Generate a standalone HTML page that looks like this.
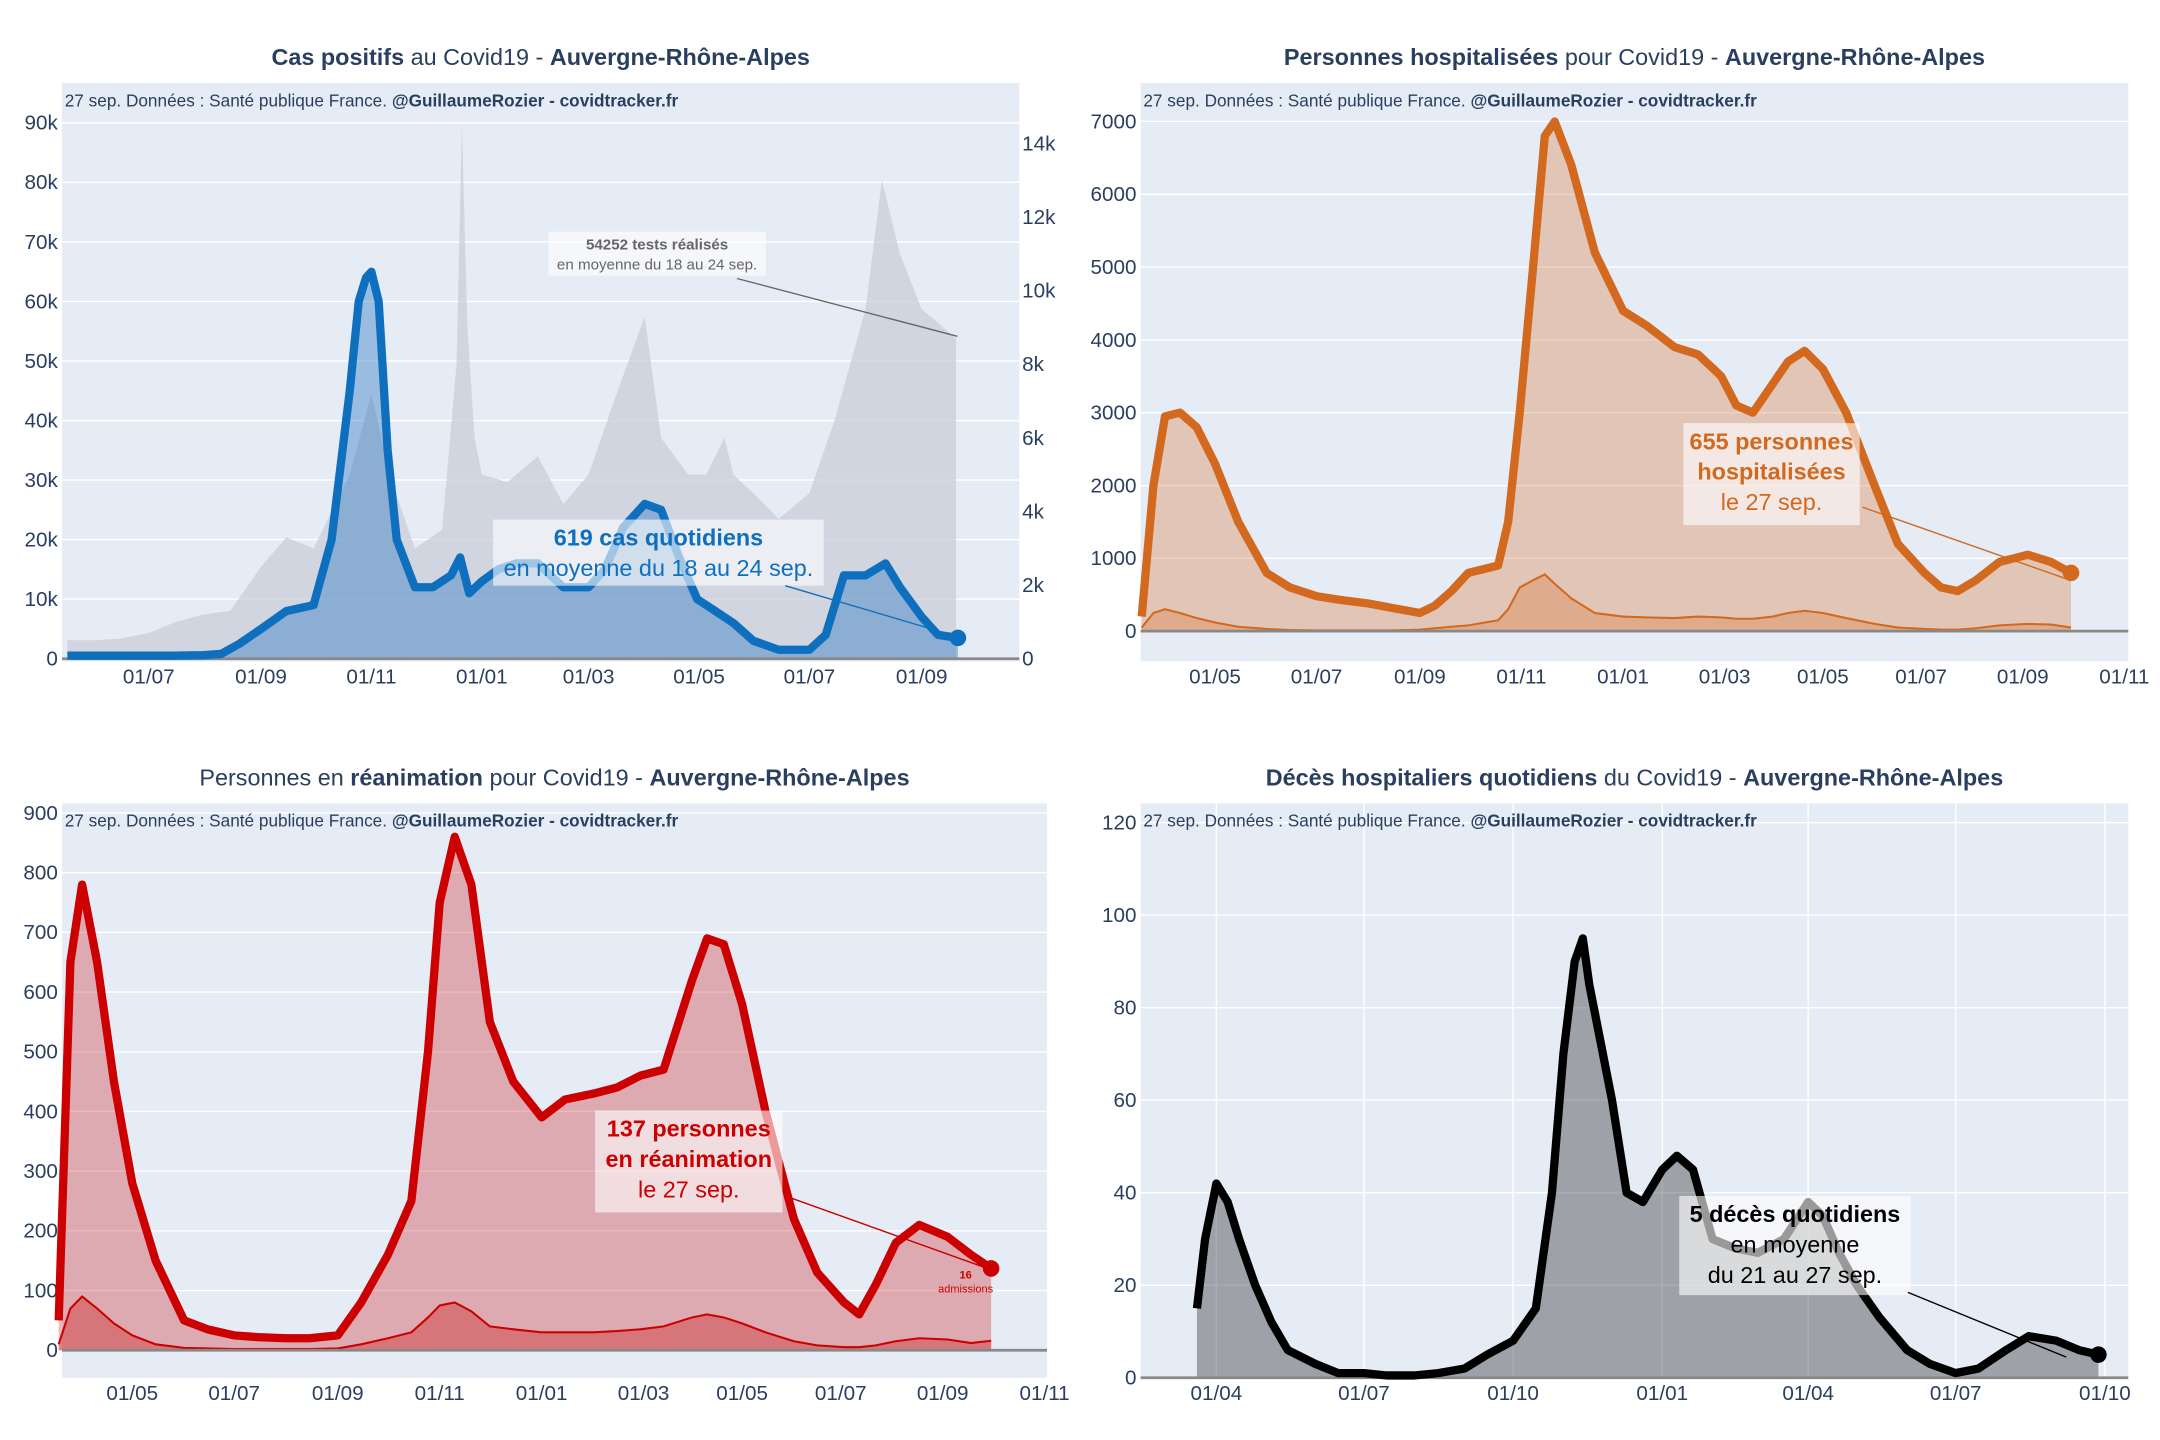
<!DOCTYPE html>
<html><head><meta charset="utf-8"><style>
html,body{margin:0;padding:0;background:#fff;}
svg{display:block;font-family:"Liberation Sans",sans-serif;}
</style></head><body>
<svg id="root" width="2160" height="1440" viewBox="0 0 1568 1045" xmlns="http://www.w3.org/2000/svg"></svg>
<script>
// ---------- DATA ----------
// Panel 1: day offsets from 2020-07-01
const casDays = [-45,-30,-15,0,15,30,40,50,62,76,91,101,111,116,120,123,127,132,137,147,157,167,172,177,184,193,203,215,229,243,252,262,274,283,293,303,313,323,334,348,365,374,384,396,407,415,427,436,447];
const casVals = [0.5,0.5,0.5,0.5,0.5,0.6,0.8,2.5,5,8,9,20,45,60,64,65,60,35,20,12,12,14,17,11,13,15,16,16,12,12,15,22,26,25,17,10,8,6,3,1.5,1.5,4,14,14,16,12,7,4,3.5];
const testDays = [-45,-30,-15,0,15,30,45,62,76,91,111,123,133,147,162,170,173,176,180,184,198,215,229,243,257,274,283,298,308,318,323,334,348,365,379,396,405,415,427,446];
const testVals = [0.5,0.5,0.55,0.7,1.0,1.2,1.3,2.5,3.3,3.0,5.0,7.2,5.0,3.0,3.5,8,14.5,9,6,5,4.8,5.5,4.2,5,7,9.3,6,5,5,6,5,4.5,3.8,4.5,6.5,9.5,13,11,9.5,8.7];
const casYTicks = [0,10,20,30,40,50,60,70,80,90];
const casY2Ticks = [0,2,4,6,8,10,12,14];
const casXTicks = [0,62,123,184,243,304,365,427];
const casXLabels = ["01/07","01/09","01/11","01/01","01/03","01/05","01/07","01/09"];

// Panel 2: day offsets from 2020-05-01
const hospDays = [-44,-37,-30,-21,-11,0,14,31,45,61,75,92,106,123,132,142,152,170,176,183,191,198,204,214,228,245,259,276,290,304,313,323,335,344,354,365,379,396,410,426,436,446,457,471,488,502,514];
const hospVals = [200,2000,2950,3000,2800,2300,1500,800,600,480,430,380,320,250,350,550,800,900,1500,3000,5000,6800,7000,6400,5200,4400,4200,3900,3800,3500,3100,3000,3400,3700,3850,3600,3000,2000,1200,800,600,550,700,950,1050,950,800];
const hospAdmVals = [50,250,300,250,180,120,60,30,15,10,10,10,10,20,40,60,80,150,300,600,700,780,650,450,250,200,190,180,200,190,170,170,200,250,280,250,180,100,50,30,20,20,40,80,100,90,50];
const hospYTicks = [0,1000,2000,3000,4000,5000,6000,7000];
const hospXTicks = [0,61,123,184,245,306,365,424,485,546,608];
const hospXLabels = ["01/05","01/07","01/09","01/11","01/01","01/03","01/05","01/07","01/09","01/11"];

// Panel 3: day offsets from 2020-05-01
const reaDays = [-44,-37,-30,-21,-11,0,14,31,45,61,75,92,106,123,137,153,167,177,184,193,203,214,228,245,259,276,290,304,318,335,344,354,365,379,396,410,426,435,445,457,471,488,502,514];
const reaVals = [50,650,780,650,450,280,150,50,35,25,22,20,20,25,80,160,250,500,750,860,780,550,450,390,420,430,440,460,470,620,690,680,580,400,220,130,80,60,110,180,210,190,160,137];
const reaAdmVals = [10,70,90,70,45,25,10,4,3,2,2,2,2,3,10,20,30,55,75,80,65,40,35,30,30,30,32,35,40,55,60,55,45,30,15,8,5,5,8,15,20,18,12,16];
const reaYTicks = [0,100,200,300,400,500,600,700,800,900];

// Panel 4: day offsets from 2020-04-01
const dcDays = [-12,-7,0,7,14,24,34,44,61,75,91,105,122,137,153,167,183,197,207,214,221,226,230,244,253,263,275,284,294,306,320,334,350,365,374,384,395,409,426,440,456,470,487,501,518,532,544];
const dcVals = [15,30,42,38,30,20,12,6,3,1,1,0.5,0.5,1,2,5,8,15,40,70,90,95,85,60,40,38,45,48,45,30,28,27,30,38,35,27,20,13,6,3,1,2,6,9,8,6,5];
const dcYTicks = [0,20,40,60,80,100,120];
const dcXTicks = [0,91,183,275,365,456,548];
const dcXLabels = ["01/04","01/07","01/10","01/01","01/04","01/07","01/10"];

// ---------- RENDER ----------
const NS="http://www.w3.org/2000/svg";
const root=document.getElementById('root');
function mk(tag,at,parent){const e=document.createElementNS(NS,tag);for(const k in at)e.setAttribute(k,at[k]);(parent||root).appendChild(e);return e;}
function txt(s,at,parent){const e=mk('text',at,parent);e.textContent=s;return e;}
const INK="#2a3f5f";

function scale(d0,x0,ppd){return d=>x0+(d-d0)*ppd;}
function lin(v0,y0,v1,y1){return v=>y0+(v-v0)*(y1-y0)/(v1-v0);}
function pathOf(days,vals,X,Y){return days.map((d,i)=>(i?'L':'M')+X(d).toFixed(1)+','+Y(vals[i]).toFixed(1)).join('');}
function areaOf(days,vals,X,Y,base){return pathOf(days,vals,X,Y)+'L'+X(days[days.length-1]).toFixed(1)+','+base+'L'+X(days[0]).toFixed(1)+','+base+'Z';}

function panel(o){
  const g=mk('g',{});
  
  
  const bg=mk('rect',{x:o.px,y:o.py,width:o.pw,height:o.ph,fill:'#e5ecf6'},g);
  
  
  // grid + y ticks
  o.yTicks.forEach(v=>{
    const y=o.Y(v);
    const l=mk('line',{x1:o.px,x2:o.px+o.pw,y1:y,y2:y,stroke:'#fff','stroke-width':1},g);
    
    
    const t=txt(o.yFmt(v),{x:o.px-3,y:y+5,'text-anchor':'end','font-size':15,fill:INK},g);
    
    
  });
  o.xTicks.forEach((d,i)=>{
    const x=o.X(d);
    if(o.vgrid){const l=mk('line',{x1:x,x2:x,y1:o.py,y2:o.py+o.ph,stroke:'#fff','stroke-width':1},g);
      
      }
    const t=txt(o.xLabels[i],{x:x,y:o.py+o.ph+16,'text-anchor':'middle','font-size':15,fill:INK},g);
    
    
  });
  const tt=mk('text',{x:o.px+o.pw/2,y:o.py-13,'text-anchor':'middle','font-size':17,fill:INK},g);
  
  
  o.title.forEach(p=>{const s=mk('tspan',{'font-weight':p[1]?'bold':'normal'},tt);s.textContent=p[0];});
  const src=mk('text',{x:o.px+2,y:o.py+17,'font-size':12.5,fill:INK},g);
  
  
  const s1=mk('tspan',{},src);s1.textContent="27 sep. Données : Santé publique France. ";
  const s2=mk('tspan',{'font-weight':'bold'},src);s2.textContent="@GuillaumeRozier - covidtracker.fr";
  return g;
}
function axisBase(g,o){const l=mk('line',{x1:o.px,x2:o.px+o.pw,y1:o.Y(0),y2:o.Y(0),stroke:'#888','stroke-width':2},g);
  
  }
function annot(g,lines,cx,cy,w,h,color,fs,lx1,ly1,lx2,ly2){
  const r=mk('rect',{x:cx-w/2,y:cy,width:w,height:h,fill:'rgba(255,255,255,0.6)'},g);
  
  
  lines.forEach((ln,i)=>{const t=txt(ln[0],{x:cx,y:cy+fs+2+i*(fs*1.3),'text-anchor':'middle','font-size':fs,'font-weight':ln[1]?'bold':'normal',fill:color},g);
    
    });
  const l=mk('line',{x1:lx1,y1:ly1,x2:lx2,y2:ly2,stroke:color,'stroke-width':1},g);
  
  
}

// Panel 1
{
 const X=scale(0,108,1.314), Y=lin(0,478,90,89), Y2=lin(0,478,14,104);
 const o={name:'cases-chart',px:45,py:60,pw:695,ph:420,X,Y,yTicks:casYTicks,yFmt:v=>v?v+'k':'0',xTicks:casXTicks,xLabels:casXLabels,title:[["Cas positifs",1],[" au Covid19 - ",0],["Auvergne-Rhône-Alpes",1]]};
 const g=panel(o);
 casY2Ticks.forEach(v=>{const t=txt(v?v+'k':'0',{x:742,y:Y2(v)+5,'font-size':15,fill:INK},g);
   
   });
 const ta=mk('path',{d:areaOf(testDays,testVals,X,Y2,478),fill:'#c9ced8','fill-opacity':0.75},g);
 
 
 const ca=mk('path',{d:areaOf(casDays,casVals,X,Y,478),fill:'rgba(30,110,190,0.38)'},g);
 
 
 axisBase(g,o);
 const cl=mk('path',{d:pathOf(casDays,casVals,X,Y),fill:'none',stroke:'#0f6fbf','stroke-width':6,'stroke-linejoin':'round'},g);
 
 
 const ld=casDays.length-1;
 const dot=mk('circle',{cx:X(casDays[ld]),cy:Y(casVals[ld]),r:6,fill:'#0f6fbf'},g);
 
 
 annot(g,[["54252 tests réalisés",1],["en moyenne du 18 au 24 sep.",0]],477,168,158,32,'#666',11,535,202,695,244);
 annot(g,[["619 cas quotidiens",1],["en moyenne du 18 au 24 sep.",0]],478,377,240,48,'#0f6fbf',17,570,425,695,462);
}
// Panel 2
{
 const X=scale(0,882,1.209), Y=lin(0,458,7000,88);
 const o={name:'hospitalized-chart',px:828,py:60,pw:717,ph:420,X,Y,yTicks:hospYTicks,yFmt:v=>''+v,xTicks:hospXTicks,xLabels:hospXLabels,title:[["Personnes hospitalisées",1],[" pour Covid19 - ",0],["Auvergne-Rhône-Alpes",1]]};
 const g=panel(o);
 const a=mk('path',{d:areaOf(hospDays,hospVals,X,Y,458),fill:'rgba(215,110,40,0.3)'},g);
 
 
 const aa=mk('path',{d:areaOf(hospDays,hospAdmVals,X,Y,458),fill:'rgba(215,110,40,0.3)'},g);
 
 
 const al=mk('path',{d:pathOf(hospDays,hospAdmVals,X,Y),fill:'none',stroke:'#d2691e','stroke-width':1.5},g);
 
 
 axisBase(g,o);
 const l=mk('path',{d:pathOf(hospDays,hospVals,X,Y),fill:'none',stroke:'#d2691e','stroke-width':6,'stroke-linejoin':'round'},g);
 
 
 const ld=hospDays.length-1;
 const dot=mk('circle',{cx:X(hospDays[ld]),cy:Y(hospVals[ld]),r:6,fill:'#d2691e'},g);
 
 
 annot(g,[["655 personnes",1],["hospitalisées",1],["le 27 sep.",0]],1286,307,128,74,'#d2691e',17,1352,368,1500,420);
}
// Panel 3
{
 const X=scale(0,96,1.213), Y=lin(0,980,900,590);
 const o={name:'icu-chart',px:45,py:583,pw:715,ph:417,X,Y,yTicks:reaYTicks,yFmt:v=>''+v,xTicks:hospXTicks,xLabels:hospXLabels,title:[["Personnes en ",0],["réanimation",1],[" pour Covid19 - ",0],["Auvergne-Rhône-Alpes",1]]};
 const g=panel(o);
 const a=mk('path',{d:areaOf(reaDays,reaVals,X,Y,980),fill:'rgba(200,0,0,0.28)'},g);
 
 
 const aa=mk('path',{d:areaOf(reaDays,reaAdmVals,X,Y,980),fill:'rgba(200,0,0,0.3)'},g);
 
 
 const al=mk('path',{d:pathOf(reaDays,reaAdmVals,X,Y),fill:'none',stroke:'#c00','stroke-width':1.5},g);
 
 
 axisBase(g,o);
 const l=mk('path',{d:pathOf(reaDays,reaVals,X,Y),fill:'none',stroke:'#c00','stroke-width':6,'stroke-linejoin':'round'},g);
 
 
 const ld=reaDays.length-1;
 const dot=mk('circle',{cx:X(reaDays[ld]),cy:Y(reaVals[ld]),r:6,fill:'#c00'},g);
 
 
 annot(g,[["137 personnes",1],["en réanimation",1],["le 27 sep.",0]],500,806,136,74,'#c00',17,570,868,715,920);
 const t1=txt("16",{x:701,y:928,'text-anchor':'middle','font-size':8,'font-weight':'bold',fill:'#c00'},g);
 
 
 const t2=txt("admissions",{x:701,y:938,'text-anchor':'middle','font-size':8,fill:'#c00'},g);
 
 
}
// Panel 4
{
 const X=scale(0,883,1.177), Y=lin(0,1000,120,597);
 const o={name:'deaths-chart',px:828,py:583,pw:717,ph:417,vgrid:true,X,Y,yTicks:dcYTicks,yFmt:v=>''+v,xTicks:dcXTicks,xLabels:dcXLabels,title:[["Décès hospitaliers quotidiens",1],[" du Covid19 - ",0],["Auvergne-Rhône-Alpes",1]]};
 const g=panel(o);
 const a=mk('path',{d:areaOf(dcDays,dcVals,X,Y,1000),fill:'rgba(60,60,60,0.42)'},g);
 
 
 axisBase(g,o);
 const l=mk('path',{d:pathOf(dcDays,dcVals,X,Y),fill:'none',stroke:'#000','stroke-width':6,'stroke-linejoin':'round'},g);
 
 
 const ld=dcDays.length-1;
 const dot=mk('circle',{cx:X(dcDays[ld]),cy:Y(dcVals[ld]),r:6,fill:'#000'},g);
 
 
 annot(g,[["5 décès quotidiens",1],["en moyenne",0],["du 21 au 27 sep.",0]],1303,868,168,72,'#000',17,1385,938,1500,985);
}
</script>
</body></html>
